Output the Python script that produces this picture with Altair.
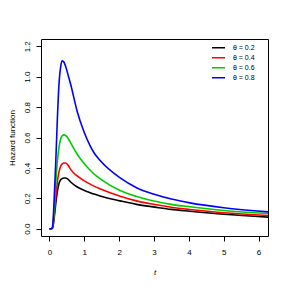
import altair as alt
import pandas as pd

t = [0, 0.06, 0.09, 0.135, 0.18, 0.23, 0.28, 0.33, 0.37, 0.42, 0.47, 0.55, 0.61,
     0.8, 0.99, 1.17, 1.28, 1.45, 2.03, 2.5, 3.03, 3.5, 4.03, 5.0, 6.27]
h_02 = [0, 0, 0.004, 0.065, 0.159, 0.246, 0.30, 0.323, 0.33, 0.334, 0.334, 0.322, 0.307,
        0.274, 0.253, 0.237, 0.228, 0.215, 0.183, 0.160, 0.142, 0.127, 0.115, 0.095, 0.076]
h_04 = [0, 0, 0.005, 0.085, 0.203, 0.312, 0.377, 0.414, 0.427, 0.432, 0.432, 0.413, 0.39,
        0.347, 0.316, 0.293, 0.28, 0.263, 0.214, 0.183, 0.159, 0.141, 0.126, 0.105, 0.087]
h_06 = [0, 0, 0.01, 0.115, 0.29, 0.443, 0.54, 0.595, 0.612, 0.617, 0.612, 0.59, 0.565,
        0.49, 0.43, 0.385, 0.36, 0.33, 0.251, 0.212, 0.181, 0.160, 0.144, 0.120, 0.100]
h_08 = [0, 0, 0.01, 0.18, 0.42, 0.727, 0.966, 1.075, 1.105, 1.095, 1.065, 1.0, 0.95,
        0.77, 0.64, 0.545, 0.50, 0.45, 0.334, 0.27, 0.225, 0.195, 0.170, 0.138, 0.111]

series = ["θ = 0.2", "θ = 0.4", "θ = 0.6", "θ = 0.8"]
colors = ["#000000", "#FF0000", "#00CC00", "#0000FF"]

rows = []
for name, vals in zip(series, [h_02, h_04, h_06, h_08]):
    for ti, v in zip(t, vals):
        rows.append({"t": ti, "h": v, "theta": name})
df = pd.DataFrame(rows)

FONT = "Liberation Sans"

chart = alt.Chart(df).mark_line(clip=True, strokeWidth=1.6, interpolate="monotone").encode(
    x=alt.X("t:Q",
            scale=alt.Scale(domain=[-0.24, 6.27], nice=False, zero=False),
            axis=alt.Axis(values=[0, 1, 2, 3, 4, 5, 6], format="d", title="t",
                          titleFontStyle="italic", titleFontWeight="normal",
                          titleFontSize=8, titlePadding=12, labelFontSize=8,
                          labelPadding=7, tickSize=5, grid=False, domain=False,
                          tickColor="black", labelColor="black", titleColor="black",
                          labelFont=FONT, titleFont=FONT)),
    y=alt.Y("h:Q",
            scale=alt.Scale(domain=[-0.048, 1.248], nice=False, zero=False),
            axis=alt.Axis(values=[0, 0.2, 0.4, 0.6, 0.8, 1.0, 1.2], format=".1f",
                          title="Hazard function", titleFontWeight="normal",
                          titleFontSize=8, titlePadding=7, labelFontSize=8,
                          labelAngle=270, labelAlign="center", labelBaseline="bottom",
                          labelPadding=5, tickSize=5, grid=False, domain=False,
                          tickColor="black", labelColor="black", titleColor="black",
                          labelFont=FONT, titleFont=FONT)),
    color=alt.Color("theta:N",
                    scale=alt.Scale(domain=series, range=colors),
                    legend=alt.Legend(title=None, orient="none", legendX=170, legendY=5,
                                      symbolType="stroke", symbolSize=169,
                                      symbolStrokeWidth=1.4, labelFontSize=7,
                                      labelFont=FONT, labelOffset=7, rowPadding=1,
                                      clipHeight=7.5, labelColor="black")),
    order=alt.Order("theta:N"),
).properties(
    width=227, height=197,
    autosize=alt.AutoSizeParams(type="none"),
    padding={"left": 33, "top": 31, "right": 12, "bottom": 44},
).configure_view(stroke="black", strokeWidth=1)

chart.save("out.html", embed_options={"renderer": "svg", "actions": False})
